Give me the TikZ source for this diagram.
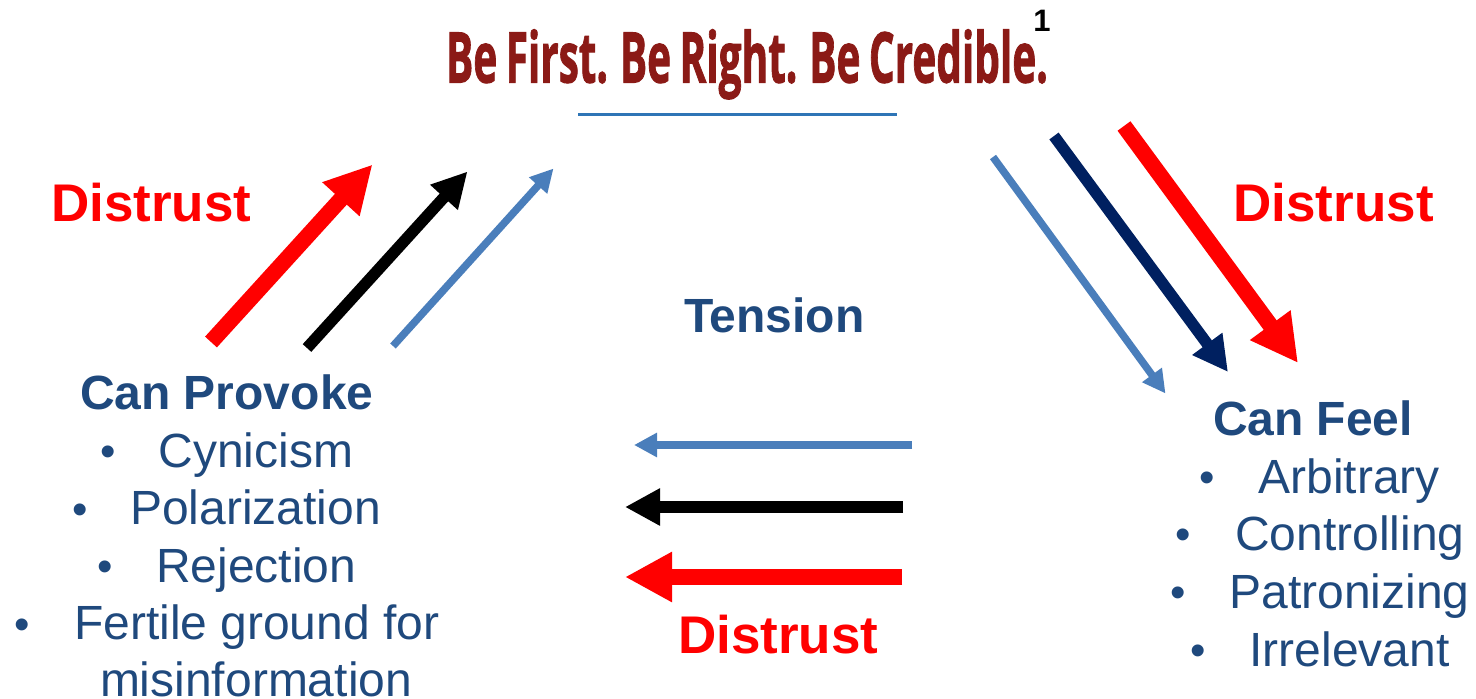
\documentclass[tikz,border=0pt]{standalone}
\usepackage{fontspec}
\setmainfont{Liberation Sans}
\newfontfamily\headfont[FakeBold=1.6,WordSpace=0.8]{Open Sans}
\usetikzlibrary{arrows.meta}
\definecolor{txtblue}{HTML}{1F497D}
\definecolor{arrblue}{HTML}{4A7EBB}
\definecolor{navy}{HTML}{002060}
\definecolor{headred}{HTML}{8B1A16}
\definecolor{rulerblue}{HTML}{2E75B6}
\tikzset{
  x=1pt,y=-1pt,
  lbl/.style={anchor=base west,inner sep=0pt,outer sep=0pt,text=txtblue,font=\fontsize{48}{50}\selectfont},
  lblb/.style={lbl,font=\fontsize{48}{50}\selectfont\bfseries},
  bul/.style={anchor=base,inner sep=0pt,outer sep=0pt,text=txtblue,font=\fontsize{44}{50}\selectfont},
  dist/.style={anchor=base west,inner sep=0pt,outer sep=0pt,text=red,font=\fontsize{53}{55}\selectfont\bfseries},
  thickarr/.style={draw=red,line width=16pt,-{Triangle[length=47pt,width=47pt]}},
  medarr/.style={line width=11.5pt,-{Triangle[length=35pt,width=35pt]}},
  thinarr/.style={draw=arrblue,line width=7.5pt,-{Triangle[length=23pt,width=23pt]}},
}
\begin{document}
\begin{tikzpicture}
\useasboundingbox (0,0) rectangle (1476,699);
% heading
\node[anchor=base west,inner sep=0pt,text=headred,xscale=0.579,font=\fontsize{70}{72}\selectfont\headfont\bfseries] (head) at (446,82.5) {Be First. Be Right. Be Credible.};
\node[anchor=base,inner sep=0pt,font=\fontsize{31}{32}\selectfont\bfseries] (one) at (1042,31) {1};
\coordinate (ra) at (578,114.5); \coordinate (rb) at (897,114.5);
\draw[rulerblue,line width=2.4pt] (ra) -- (rb);
% left arrows
\coordinate (l1a) at (211,342); \coordinate (l1b) at (372.5,164.5);
\coordinate (l2a) at (307,348); \coordinate (l2b) at (467.5,171.5);
\coordinate (l3a) at (393,346); \coordinate (l3b) at (553.5,168.5);
\draw[thickarr] (l1a) -- (l1b);
\draw[medarr,draw=black] (l2a) -- (l2b);
\draw[thinarr] (l3a) -- (l3b);
% right arrows
\coordinate (r1a) at (1124,126); \coordinate (r1b) at (1298,363);
\coordinate (r2a) at (1054,136); \coordinate (r2b) at (1228,372);
\coordinate (r3a) at (993,157); \coordinate (r3b) at (1165.5,393.5);
\draw[thickarr] (r1a) -- (r1b);
\draw[medarr,draw=navy] (r2a) -- (r2b);
\draw[thinarr] (r3a) -- (r3b);
% bottom arrows
\coordinate (b1a) at (912,445); \coordinate (b1b) at (634,445);
\coordinate (b2a) at (903,507); \coordinate (b2b) at (625,507);
\coordinate (b3a) at (902,577); \coordinate (b3b) at (625,577);
\draw[thinarr] (b1a) -- (b1b);
\draw[medarr,draw=black] (b2a) -- (b2b);
\draw[thickarr] (b3a) -- (b3b);
% labels
\node[dist] (d1) at (51,221.5) {Distrust};
\node[dist] (d2) at (1233.5,221.5) {Distrust};
\node[dist] (d3) at (678,653.5) {Distrust};
\node[lblb] (tension) at (684,332) {Tension};
\node[lblb] (prov) at (80,409) {Can Provoke};
\node[lblb] (feel) at (1213,435) {Can Feel};
% left list
\node[bul] (bl1) at (108,466) {•};
\node[lbl] (tl1) at (158.5,467) {Cynicism};
\node[bul] (bl2) at (80,524) {•};
\node[lbl] (tl2) at (130,524) {Polarization};
\node[bul] (bl3) at (105,581) {•};
\node[lbl] (tl3) at (156,582) {Rejection};
\node[bul] (bl4) at (22,639) {•};
\node[lbl] (tl4) at (74,639) {Fertile ground for};
\node[lbl] (tl5) at (100,696) {misinformation};
% right list
\node[bul] (br1) at (1207,492) {•};
\node[lbl] (tr1) at (1258.5,493) {Arbitrary};
\node[bul] (br2) at (1183,549) {•};
\node[lbl] (tr2) at (1235,550) {Controlling};
\node[bul] (br3) at (1178,607) {•};
\node[lbl] (tr3) at (1229.5,608) {Patronizing};
\node[bul] (br4) at (1198,665) {•};
\node[lbl] (tr4) at (1249.5,666) {Irrelevant};
\end{tikzpicture}
\end{document}
